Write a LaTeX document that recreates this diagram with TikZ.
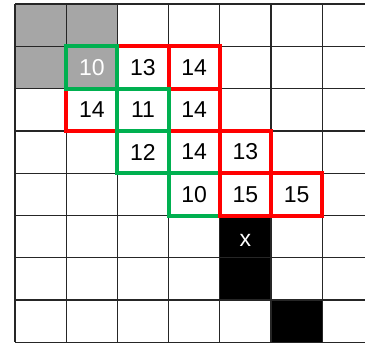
\documentclass[tikz,border=0pt]{standalone}
\usepackage{fontspec}
\setmainfont{Liberation Sans}
\definecolor{cellgray}{HTML}{A6A6A6}
\definecolor{boxgreen}{HTML}{00B050}
\definecolor{boxred}{HTML}{FF0000}
\begin{document}
\begin{tikzpicture}[x=1pt,y=-1pt,
  gridline/.style={draw=black!85,line width=1.3pt},
  cellbox/.style={minimum width=51.2pt,minimum height=42.3pt,inner sep=0pt,outer sep=0pt,anchor=center,font=\fontsize{23}{23}\selectfont},
  redbox/.style={cellbox,draw=boxred,line width=4pt},
  greenbox/.style={cellbox,draw=boxgreen,line width=4pt},
  markbox/.style={cellbox,text=white}]
\useasboundingbox (0,0) rectangle (365,343);
\clip (0,0) rectangle (365,343);
% filled cells
\fill[cellgray] (15,4) rectangle (117.4,88.6);
\fill[black] (219.8,215.5) rectangle (271,300.1);
\fill[black] (271,300.1) rectangle (322.2,342.4);
% grid
\foreach \i in {0,...,7} \draw[gridline] ({15+51.2*\i},4) -- ({15+51.2*\i},342.4);
\foreach \j in {0,...,8} \draw[gridline] (15,{4+42.3*\j}) -- (373.4,{4+42.3*\j});
% green boxes (lower group)
\node[greenbox] (c23) at (143,152.05) {12};
\node[greenbox] (c33) at (194.2,152.05) {14};
\node[greenbox] (c34) at (194.2,194.35) {10};
% red boxes
\node[redbox] (c21) at (143,67.45) {13};
\node[redbox] (c31) at (194.2,67.45) {14};
\node[redbox] (c12) at (91.8,109.75) {14};
\node[redbox] (c32) at (194.2,109.75) {14};
\node[redbox] (c43) at (245.4,152.05) {13};
\node[redbox] (c44) at (245.4,194.35) {15};
\node[redbox] (c54) at (296.6,194.35) {15};
% green boxes (upper group)
\node[greenbox,text=white] (c11) at (91.8,67.45) {10};
\node[greenbox] (c22) at (143,109.75) {11};
% start mark
\node[markbox] (start) at (245.4,240) {x};
\end{tikzpicture}
\end{document}
